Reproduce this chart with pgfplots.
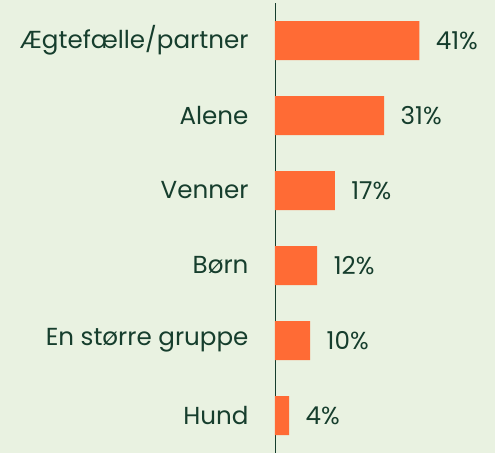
\documentclass[border=0pt]{standalone}
\usepackage{pgfplots}
\pgfplotsset{compat=1.18}
\usepackage{fontspec}
\setmainfont{Poppins}
\definecolor{bg}{RGB}{233,242,225}
\definecolor{bar}{RGB}{255,107,53}
\definecolor{txt}{RGB}{22,62,45}
\begin{document}
\begin{tikzpicture}[x=1pt,y=1pt]
\useasboundingbox (-275,0) rectangle (220,453);
\fill[bg] (-275,0) rectangle (220,453);
\begin{axis}[
  scale only axis, width=220pt, height=450pt,
  xmin=0, xmax=62.5, ymin=-0.5, ymax=5.5, y dir=reverse,
  axis x line=none, axis y line*=left,
  axis line style={txt, line width=0.8pt},
  y axis line style={-},
  ytick={0,1,2,3,4,5},
  yticklabels={Ægtefælle/partner,Alene,Venner,Børn,En større gruppe,Hund},
  yticklabel style={font=\fontsize{24.6}{28}\selectfont, text=txt, xshift=-23pt},
  major tick length=0pt,
  xbar, bar width=39pt,
  point meta=explicit symbolic,
  nodes near coords={\pgfplotspointmeta\%},
  nodes near coords style={font=\fontsize{24.6}{28}\selectfont, text=txt, anchor=west, xshift=13pt},
]
\addplot[fill=bar, draw=none] coordinates {
 (41,0) [41] (31,1) [31] (17,2) [17] (12,3) [12] (10,4) [10] (4,5) [4]};
\end{axis}
\end{tikzpicture}
\end{document}
